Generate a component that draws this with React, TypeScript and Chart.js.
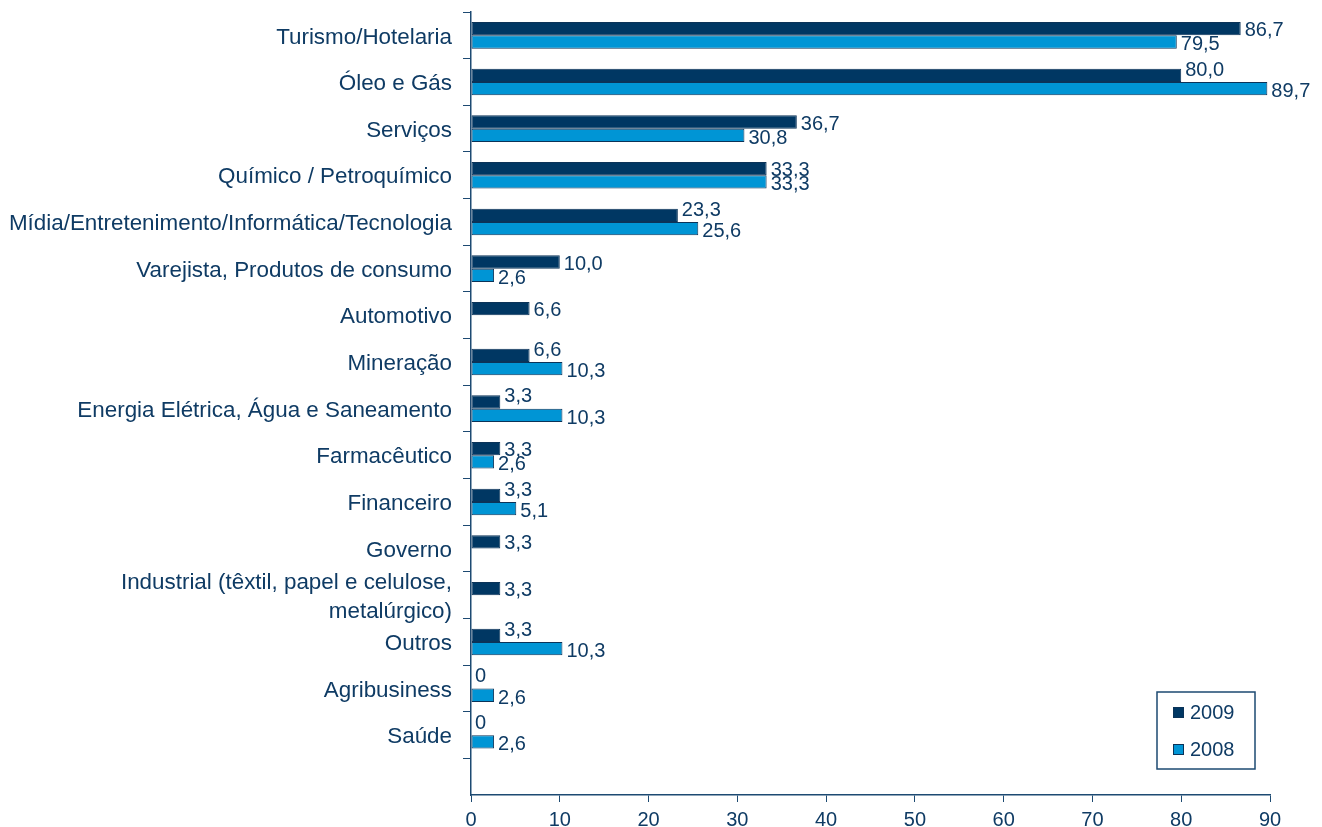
import React, { useEffect, useRef } from "react";
import { Chart, registerables } from "chart.js";

Chart.register(...registerables);

const categories: (string | string[])[] = [
  "Turismo/Hotelaria",
  "Óleo e Gás",
  "Serviços",
  "Químico / Petroquímico",
  "Mídia/Entretenimento/Informática/Tecnologia",
  "Varejista, Produtos de consumo",
  "Automotivo",
  "Mineração",
  "Energia Elétrica, Água e Saneamento",
  "Farmacêutico",
  "Financeiro",
  "Governo",
  ["Industrial (têxtil, papel e celulose,", "metalúrgico)"],
  "Outros",
  "Agribusiness",
  "Saúde",
];

const values2009: (number | null)[] = [86.7, 80.0, 36.7, 33.3, 23.3, 10.0, 6.6, 6.6, 3.3, 3.3, 3.3, 3.3, 3.3, 3.3, 0, 0];
const values2008: (number | null)[] = [79.5, 89.7, 30.8, 33.3, 25.6, 2.6, null, 10.3, 10.3, 2.6, 5.1, null, null, 10.3, 2.6, 2.6];
const seriesNames = ["2009", "2008"];
const xTickValues = [0, 10, 20, 30, 40, 50, 60, 70, 80, 90];

const FONT = 'Arial, "Liberation Sans", sans-serif';
const TEXT = "#0f3b64";
const AXIS = "#1d4a72";
const DARK = "#003763";
const LIGHT = "#0095d5";
const BORDER = "#0b3358";

const fmt = (v: number) => (v === 0 ? "0" : v.toFixed(1).replace(".", ","));

const valueLabels = {
  id: "valueLabels",
  afterDatasetsDraw(chart: any) {
    const ctx = chart.ctx;
    ctx.save();
    ctx.font = `20px ${FONT}`;
    ctx.fillStyle = TEXT;
    ctx.textAlign = "left";
    ctx.textBaseline = "middle";
    chart.data.datasets.forEach((ds: any, di: number) => {
      const meta = chart.getDatasetMeta(di);
      const other = chart.data.datasets[1 - di].data;
      meta.data.forEach((el: any, i: number) => {
        const v = ds.data[i];
        if (v === null || v === undefined) return;
        const o = other[i];
        let dy = 0;
        if (di === 0) dy = o !== null && o !== undefined && o > v ? -5 : 2;
        else dy = 3;
        ctx.fillText(fmt(v), el.x + 4, el.y + dy);
      });
    });
    ctx.restore();
  },
};

const boxLegend = {
  id: "boxLegend",
  afterDraw(chart: any) {
    const { ctx, chartArea } = chart;
    const w = 98;
    const h = 77;
    const x = chartArea.right - 15 - w;
    const y = chartArea.bottom - 26 - h;
    ctx.save();
    ctx.fillStyle = "#ffffff";
    ctx.fillRect(x, y, w, h);
    ctx.strokeStyle = AXIS;
    ctx.lineWidth = 1.5;
    ctx.strokeRect(x, y, w, h);
    ctx.font = `20px ${FONT}`;
    ctx.textAlign = "left";
    ctx.textBaseline = "middle";
    chart.data.datasets.forEach((ds: any, i: number) => {
      const cy = y + 20 + i * 37;
      ctx.fillStyle = ds.backgroundColor;
      ctx.fillRect(x + 16, cy - 5, 11, 11);
      ctx.strokeStyle = BORDER;
      ctx.lineWidth = 1;
      ctx.strokeRect(x + 16.5, cy - 4.5, 10, 10);
      ctx.fillStyle = TEXT;
      ctx.fillText(ds.label, x + 33, cy + 1);
    });
    ctx.restore();
  },
};

export default function App() {
  const ref = useRef<HTMLCanvasElement | null>(null);

  useEffect(() => {
    document.body.style.margin = "0";
    if (!ref.current) return;
    const chart = new Chart(ref.current, {
      type: "bar",
      data: {
        labels: categories as any,
        datasets: [
          {
            label: seriesNames[0],
            data: values2009 as any,
            backgroundColor: DARK,
            borderColor: BORDER,
            borderWidth: 1,
            borderSkipped: false,
            categoryPercentage: 0.57,
            barPercentage: 1,
          },
          {
            label: seriesNames[1],
            data: values2008 as any,
            backgroundColor: LIGHT,
            borderColor: BORDER,
            borderWidth: 1,
            borderSkipped: false,
            categoryPercentage: 0.57,
            barPercentage: 1,
          },
        ],
      },
      options: {
        indexAxis: "y",
        responsive: false,
        animation: false,
        layout: { padding: { top: 12, right: 52, bottom: 0, left: 0 } },
        plugins: {
          legend: { display: false },
          tooltip: { enabled: false },
        },
        scales: {
          x: {
            type: "linear",
            min: 0,
            max: 90,
            ticks: {
              color: TEXT,
              font: { size: 20, family: FONT },
              padding: 6,
            },
            grid: {
              drawOnChartArea: false,
              drawTicks: true,
              tickLength: 7,
              color: AXIS,
            },
            border: { display: true, color: AXIS, width: 1.5 },
            afterBuildTicks: (s: any) => {
              s.ticks = xTickValues.map((v) => ({ value: v }));
            },
            afterFit: (s: any) => {
              s.height = 32;
              s.paddingLeft = 0;
              s.paddingRight = 0;
            },
          } as any,
          y: {
            type: "category",
            offset: true,
            ticks: {
              color: TEXT,
              font: { size: 22.4, family: FONT, lineHeight: 1.27 },
              padding: 11,
              labelOffset: 2,
              autoSkip: false,
            },
            grid: {
              drawOnChartArea: false,
              drawTicks: true,
              tickLength: 8,
              color: AXIS,
              offset: true,
            },
            border: { display: true, color: AXIS, width: 1.5 },
            afterBuildTicks: (s: any) => {
              s._valueRange = 16.78;
            },
            afterFit: (s: any) => {
              s.width = 471;
              s.paddingTop = 0;
              s.paddingBottom = 0;
            },
          } as any,
        },
      },
      plugins: [valueLabels, boxLegend],
    });
    return () => chart.destroy();
  }, []);

  return (
    <div style={{ position: "absolute", left: 0, top: 0, width: 1322, height: 827, background: "#fff" }}>
      <canvas ref={ref} width={1322} height={827} />
    </div>
  );
}
